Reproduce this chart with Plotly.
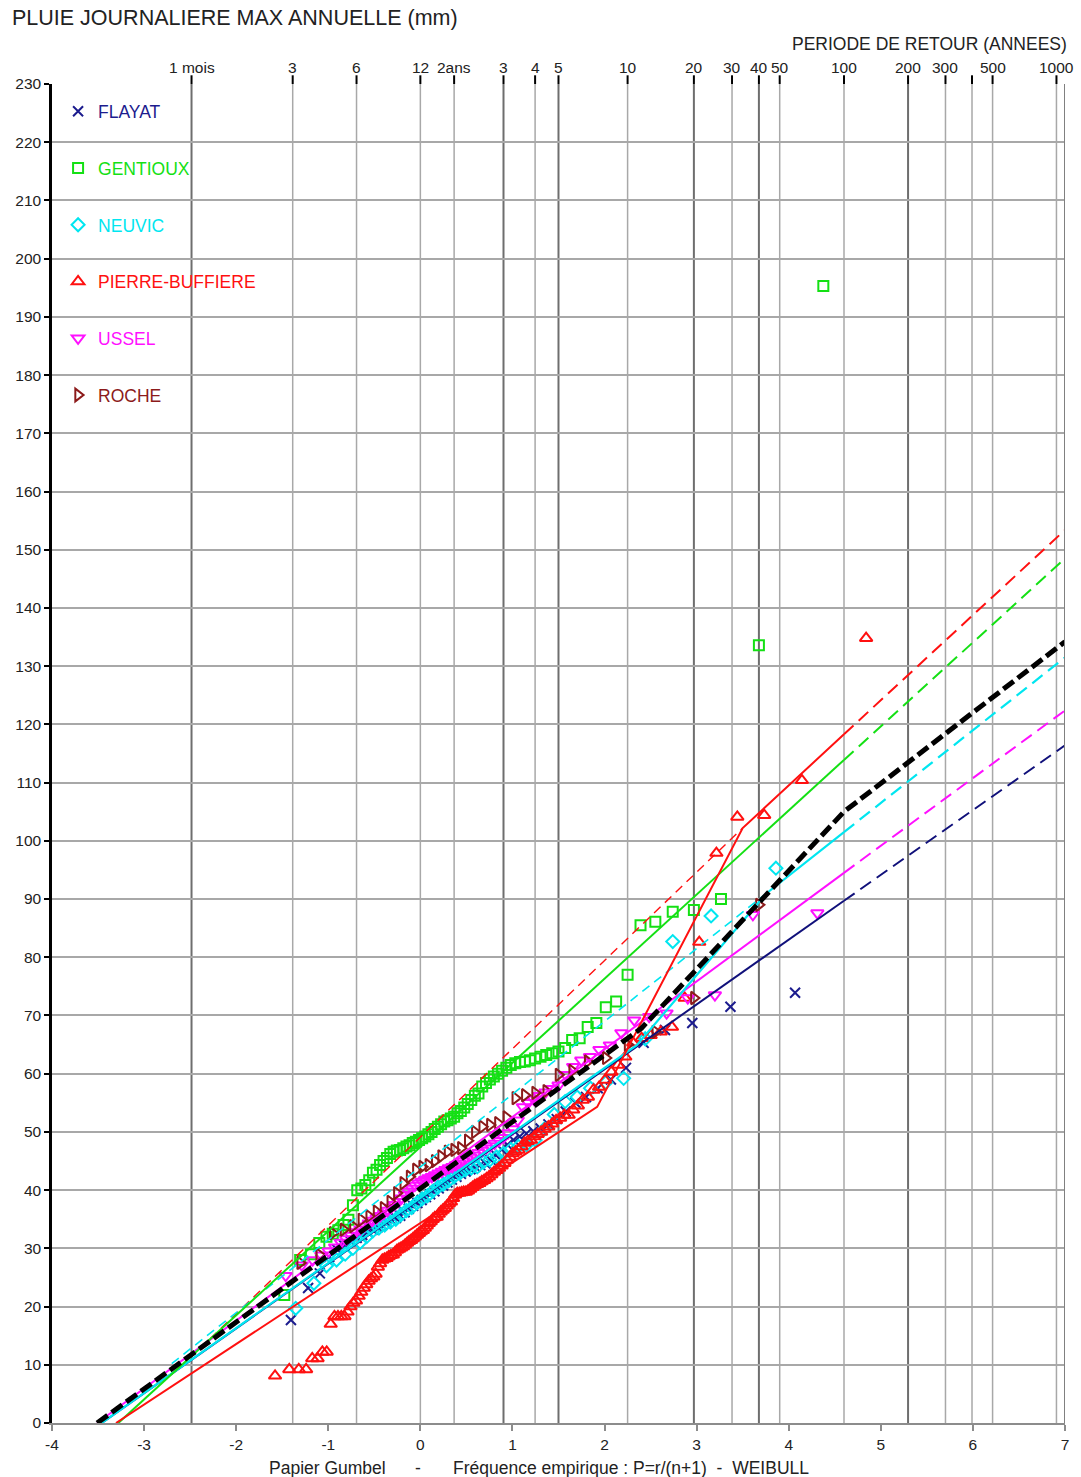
import numpy as np
import plotly.graph_objects as go

# ---------------------------------------------------------------------------
# Annual maxima of daily rainfall (mm), one list per station, ascending order
# ---------------------------------------------------------------------------
flayat = [17.7, 23.2, 25.7, 28.5, 29.8, 30.5, 31.2, 31.8, 32.3, 32.8, 33.2, 33.6, 34.0, 34.4, 34.8, 35.2, 35.6, 36.2, 36.8, 37.3,
          37.8, 38.3, 38.8, 39.3, 39.8, 40.3, 40.8, 41.3, 41.8, 42.3, 42.8, 43.2, 43.6, 44.0, 44.3, 44.6, 45.2, 46.0, 47.0, 47.8,
          48.6, 49.2, 49.7, 50.1, 50.6, 51.3, 52.2, 53.5, 55.0, 56.0, 57.5, 59.0, 61.0, 65.3, 67.5, 68.7, 71.5, 73.9]

gentioux = [22.0, 28.0, 29.0, 30.9, 32.0, 32.5, 33.1, 34.0, 34.9, 37.4, 40.0, 40.3, 40.9, 41.7, 43.0, 43.5, 44.3, 45.0, 45.5, 46.2,
            46.6, 46.8, 46.9, 47.2, 47.5, 47.7, 48.1, 48.3, 48.6, 48.9, 49.2, 49.6, 50.0, 50.5, 50.9, 51.3, 51.8, 52.0, 52.3, 52.6,
            53.2, 53.6, 54.2, 54.8, 55.5, 56.2, 56.6, 57.8, 58.4, 59.0, 59.5, 60.0, 60.5, 61.0, 61.5, 61.8, 62.0, 62.1, 62.3, 62.6,
            62.9, 63.2, 63.5, 63.8, 64.4, 65.8, 66.1, 68.0, 68.7, 71.4, 72.4, 77.0, 85.5, 86.1, 87.8, 88.1, 90.0, 133.6, 195.3]

neuvic = [19.7, 24.0, 27.0, 28.0, 29.0, 30.0, 31.0, 32.0, 33.0, 33.5, 34.0, 34.5, 35.0, 35.8, 36.5, 37.0, 37.8, 38.5, 39.0, 39.8,
          40.5, 41.0, 41.6, 42.3, 42.9, 43.5, 43.8, 44.0, 44.8, 45.2, 45.7, 46.3, 47.0, 47.5, 47.8, 48.6, 50.5, 53.0, 55.2, 56.0,
          57.5, 58.5, 59.2, 66.0, 82.7, 87.1, 95.3]

pierre_buffiere = [8.1, 9.2, 9.2, 9.2, 11.1, 11.1, 12.2, 12.2, 17.0, 18.3, 18.3, 18.3, 18.3, 19.1, 20.0, 20.6, 21.0, 21.8, 22.5, 23.2,
                   23.8, 24.4, 24.8, 25.1, 25.6, 26.8, 27.4, 28.0, 28.2, 28.3, 28.6, 28.8, 28.9, 29.3, 29.7, 29.9, 30.1, 30.3, 30.6, 30.9,
                   31.2, 31.4, 31.7, 32.0, 32.3, 32.6, 32.9, 33.1, 33.5, 33.9, 34.3, 34.6, 35.0, 35.3, 35.4, 35.9, 36.3, 36.6, 36.9, 37.3,
                   37.7, 38.0, 38.6, 39.2, 39.5, 39.5, 39.6, 39.7, 39.7, 39.9, 40.2, 40.5, 40.8, 41.0, 41.2, 41.5, 41.7, 42.0, 42.3, 42.7,
                   43.1, 43.4, 43.8, 44.2, 44.6, 45.2, 45.7, 46.3, 46.6, 46.9, 47.5, 48.1, 48.4, 48.6, 49.2, 49.6, 50.0, 50.5, 50.9, 51.4,
                   52.0, 52.4, 52.9, 52.9, 53.8, 54.5, 55.5, 56.0, 57.2, 57.7, 58.9, 60.3, 61.5, 62.9, 65.3, 66.1, 66.6, 67.2, 68.0, 73.0,
                   82.6, 97.9, 104.1, 104.4, 110.4, 134.8]

ussel = [25.3, 27.1, 28.0, 28.8, 29.5, 30.2, 31.0, 31.6, 32.2, 32.8, 33.3, 33.8, 34.3, 34.8, 35.2, 35.6, 36.0, 36.5, 37.0, 37.5,
         38.0, 38.6, 39.2, 39.8, 40.3, 40.8, 41.2, 41.5, 41.8, 42.1, 42.3, 42.6, 42.9, 43.2, 43.5, 43.8, 44.0, 44.3, 44.6, 45.0,
         45.3, 45.6, 46.0, 46.4, 46.8, 47.2, 47.6, 48.0, 48.5, 49.0, 49.8, 50.5, 52.0, 54.3, 55.0, 55.6, 56.2, 56.8, 57.4, 58.0,
         59.8, 61.2, 62.3, 62.9, 64.1, 64.9, 67.0, 69.2, 69.8, 70.4, 73.0, 73.5, 87.3, 87.6]

roche = [27.5, 28.9, 32.6, 33.2, 33.8, 34.9, 35.5, 36.3, 36.9, 38.0, 39.5, 41.2, 42.3, 43.5, 44.0, 44.3, 45.0, 45.8, 46.6, 46.9,
         47.2, 48.5, 50.0, 50.9, 51.2, 51.5, 52.5, 55.8, 56.3, 56.7, 57.0, 59.8, 60.5, 62.1, 62.7, 65.0, 67.2, 73.0, 89.0]

# ---------------------------------------------------------------------------
# Fitted laws: breakpoints in (Gumbel reduced variable u, rainfall mm)
# *_fit = solid part (up to T = 100 years), *_ext = dashed extrapolation
# ---------------------------------------------------------------------------
flayat_fit_u, flayat_fit_mm = [-3.46, 4.6], [0.0, 89.7]
flayat_ext_u, flayat_ext_mm = [4.6, 7.0], [89.7, 116.4]

gentioux_fit_u, gentioux_fit_mm = [-3.28, 4.6], [0.0, 113.9]
gentioux_ext_u, gentioux_ext_mm = [4.6, 7.0], [113.9, 148.5]

neuvic_fit_u, neuvic_fit_mm = [-3.46, 2.35, 3.76, 4.6], [0.0, 64.9, 91.0, 101.5]
neuvic_ext_u, neuvic_ext_mm = [4.6, 7.0], [101.5, 131.5]
neuvic_upper_u, neuvic_upper_mm = [-2.7, 3.76], [10.2, 91.0]

pb_fit_u, pb_fit_mm = [-3.305, 1.92, 3.5, 4.6], [0.0, 54.3, 102.2, 118.3]
pb_ext_u, pb_ext_mm = [4.6, 7.0], [118.3, 153.4]
pb_upper_u, pb_upper_mm = [-2.4, 3.5], [12.7, 102.2]

ussel_fit_u, ussel_fit_mm = [-3.51, 4.6], [0.0, 94.5]
ussel_ext_u, ussel_ext_mm = [4.6, 7.0], [94.5, 122.4]

regional_u = [-3.51, 2.4, 4.6, 7.0]
regional_mm = [0.0, 67.8, 105.0, 134.2]

# ---------------------------------------------------------------------------
# Return-period scale (top axis)
# ---------------------------------------------------------------------------
month_periods = [1, 3, 6, 12]
month_labels = ["1 mois", "3", "6", "12"]
month_strong = [True, False, False, False]
year_periods = [2, 3, 4, 5, 10, 20, 30, 40, 50, 100, 200, 300, 400, 500, 1000]
year_labels = ["2ans", "3", "4", "5", "10", "20", "30", "40", "50", "100", "200", "300", "", "500", "1000"]
year_strong = [False, True, False, True, False, True, False, True, False, False, True, False, False, False, False]

x_ticks = list(range(-4, 8))
y_ticks = list(range(0, 240, 10))

FONT = "Liberation Sans, Arial, sans-serif"
TXT = "#222222"

NAVY = "#1c1c8e"
GREEN = "#14e014"
CYAN = "#00e6f0"
RED = "#ff1010"
MAGENTA = "#ff10ff"
BROWN = "#8c1a1a"


def weibull_u(values):
    """Empirical frequency P = r/(n+1) mapped to the Gumbel reduced variable."""
    n = len(values)
    r = np.arange(1, n + 1)
    return -np.log(-np.log(r / (n + 1.0)))


stations = [
    ("FLAYAT", flayat, NAVY, "x-thin-open", 10),
    ("GENTIOUX", gentioux, GREEN, "square-open", 10),
    ("NEUVIC", neuvic, CYAN, "diamond-open", 10),
    ("PIERRE-BUFFIERE", pierre_buffiere, RED, "triangle-up-open", 11),
    ("USSEL", ussel, MAGENTA, "triangle-down-open", 11),
    ("ROCHE", roche, BROWN, "triangle-right-open", 11),
]

fig = go.Figure()

# empirical points
for name, vals, col, sym, size in stations:
    v = np.sort(np.asarray(vals, dtype=float))
    fig.add_trace(go.Scatter(
        x=weibull_u(v), y=v, mode="markers",
        name=f'<span style="color:{col}">{name}</span>',
        legendgroup=name,
        marker=dict(symbol=sym, size=size, color=col, line=dict(width=2.0, color=col)),
        hoverinfo="skip",
    ))


def add_line(u, mm, col, width=2.0, dash="solid"):
    fig.add_trace(go.Scatter(x=u, y=mm, mode="lines", showlegend=False, hoverinfo="skip",
                             line=dict(color=col, width=width, dash=dash)))


DASH_EXT = "13px,7px"
DASH_THIN = "9px,6px"

# upper-segment extensions (thin dashed)
add_line(pb_upper_u, pb_upper_mm, RED, 1.4, DASH_THIN)
add_line(neuvic_upper_u, neuvic_upper_mm, CYAN, 1.6, DASH_THIN)

# fitted laws
add_line(flayat_fit_u, flayat_fit_mm, "#10107a", 2.0)
add_line(flayat_ext_u, flayat_ext_mm, "#10107a", 2.0, DASH_EXT)
add_line(ussel_fit_u, ussel_fit_mm, MAGENTA, 2.0)
add_line(ussel_ext_u, ussel_ext_mm, MAGENTA, 2.0, DASH_EXT)
add_line(neuvic_fit_u, neuvic_fit_mm, CYAN, 2.2)
add_line(neuvic_ext_u, neuvic_ext_mm, CYAN, 2.2, DASH_EXT)
add_line(gentioux_fit_u, gentioux_fit_mm, GREEN, 2.0)
add_line(gentioux_ext_u, gentioux_ext_mm, GREEN, 2.0, DASH_EXT)
add_line(pb_fit_u, pb_fit_mm, RED, 2.0)
add_line(pb_ext_u, pb_ext_mm, RED, 2.0, DASH_EXT)

# regional law (thick black dashed)
add_line(regional_u, regional_mm, "#000000", 5.0, "13px,5px")

# return-period grid lines, labels and top ticks
rp_u = [float(np.log(m / 12.0)) for m in month_periods] + \
       [float(-np.log(-np.log(1.0 - 1.0 / t))) for t in year_periods]
rp_labels = month_labels + year_labels
rp_strong = month_strong + year_strong

shapes = []
annotations = []
for u, lab, strong in zip(rp_u, rp_labels, rp_strong):
    shapes.append(dict(type="line", xref="x", yref="y", x0=u, x1=u, y0=0, y1=230, layer="below",
                       line=dict(color="#6e6e6e" if strong else "#a8a8a8", width=2 if strong else 1.5)))
    shapes.append(dict(type="line", xref="x", yref="paper", x0=u, x1=u, y0=1.0, y1=1.0065,
                       line=dict(color="#000000", width=2)))
    if lab:
        annotations.append(dict(x=u, y=1.0, xref="x", yref="paper", text=lab, showarrow=False,
                                xanchor="center", yanchor="bottom", yshift=6,
                                font=dict(family=FONT, size=15.5, color=TXT)))

# frame on the right side
shapes.append(dict(type="line", xref="x", yref="y", x0=7, x1=7, y0=0, y1=230,
                   line=dict(color="#808080", width=2)))

annotations += [
    dict(x=-0.0415, y=1.0493, xref="paper", yref="paper", text="PLUIE JOURNALIERE MAX ANNUELLE (mm)",
         showarrow=False, xanchor="left", yanchor="middle", font=dict(family=FONT, size=21.5, color=TXT)),
    dict(x=1.0035, y=1.0299, xref="paper", yref="paper", text="PERIODE DE RETOUR (ANNEES)",
         showarrow=False, xanchor="right", yanchor="middle", font=dict(family=FONT, size=17.5, color=TXT)),
    dict(x=0.2122, y=-0.0336, xref="paper", yref="paper", text="Papier Gumbel",
         showarrow=False, xanchor="left", yanchor="middle", font=dict(family=FONT, size=17.5, color=TXT)),
    dict(x=0.3614, y=-0.0336, xref="paper", yref="paper", text="-",
         showarrow=False, xanchor="center", yanchor="middle", font=dict(family=FONT, size=17.5, color=TXT)),
    dict(x=0.3939, y=-0.0336, xref="paper", yref="paper",
         text="Fréquence empirique : P=r/(n+1)&nbsp;&nbsp;-&nbsp;&nbsp;WEIBULL",
         showarrow=False, xanchor="left", yanchor="middle", font=dict(family=FONT, size=17.5, color=TXT)),
]

fig.update_layout(
    width=1081, height=1477,
    margin=dict(l=52, r=16, t=84, b=54),
    paper_bgcolor="white", plot_bgcolor="white",
    font=dict(family=FONT, size=15.5, color=TXT),
    shapes=shapes, annotations=annotations,
    showlegend=True,
    legend=dict(x=0.006, y=0.993, xanchor="left", yanchor="top", bgcolor="rgba(0,0,0,0)",
                font=dict(family=FONT, size=17.5), tracegroupgap=31),
    xaxis=dict(range=[-4, 7], tickvals=x_ticks, ticktext=[str(v) for v in x_ticks],
               showgrid=False, zeroline=False, showline=True, linecolor="#8c8c8c", linewidth=2,
               ticks="outside", ticklen=6, tickcolor="#8c8c8c", tickwidth=1.5,
               tickfont=dict(family=FONT, size=15.5, color=TXT)),
    yaxis=dict(range=[0, 230], tickvals=y_ticks, showgrid=True, gridcolor="#a8a8a8", gridwidth=1.5,
               zeroline=False, showline=True, linecolor="#000000", linewidth=2.5,
               ticks="outside", ticklen=5, tickcolor="#000000", tickwidth=1.5,
               tickfont=dict(family=FONT, size=15.5, color=TXT)),
)

fig.write_html("out.html")
